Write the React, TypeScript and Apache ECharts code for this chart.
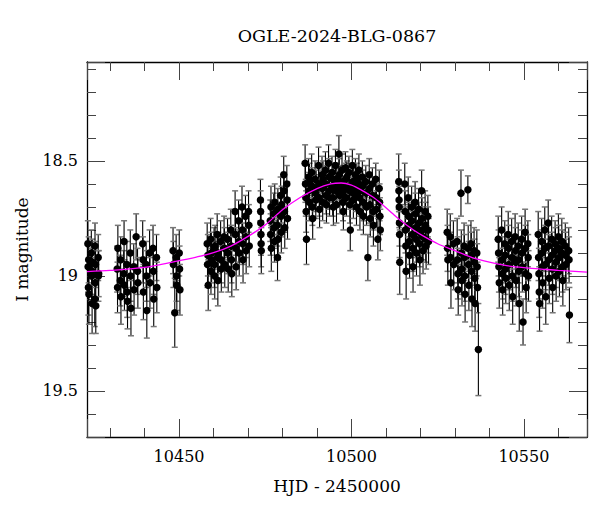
import React, { useEffect, useRef } from 'react';
import * as echarts from 'echarts';

const TITLE = 'OGLE-2024-BLG-0867';
const X_NAME = 'HJD - 2450000';
const Y_NAME = 'I magnitude';
const X_MIN = 10423.3;
const X_MAX = 10568.3;
const Y_MIN = 18.07;
const Y_MAX = 19.7;

// [HJD-2450000, I mag, error]
const obs: number[][] = [
  [10423.55,18.86,0.10],[10423.62,18.96,0.11],[10423.70,19.05,0.12],[10423.78,18.93,0.10],[10423.85,19.08,0.13],
  [10424.55,18.90,0.10],[10424.62,19.00,0.11],[10424.70,18.98,0.10],[10424.78,19.12,0.13],[10424.85,18.94,0.10],
  [10425.55,19.10,0.12],[10425.62,18.87,0.10],[10425.70,19.03,0.11],[10425.78,18.95,0.10],[10425.85,19.13,0.12],
  [10426.55,18.92,0.10],[10426.62,19.00,0.11],[10426.70,18.99,0.10],
  [10432.05,18.97,0.10],[10432.15,19.05,0.11],[10432.25,18.88,0.10],
  [10432.95,19.02,0.11],[10433.05,18.93,0.10],[10433.15,19.09,0.12],
  [10433.95,18.99,0.10],[10434.05,18.85,0.09],[10434.15,19.04,0.11],
  [10434.85,18.95,0.10],[10434.95,19.07,0.11],[10435.05,19.11,0.12],
  [10435.85,18.90,0.10],[10435.95,19.00,0.11],[10436.05,19.14,0.12],
  [10436.85,18.96,0.10],[10436.95,19.06,0.11],
  [10437.55,18.83,0.10],[10437.95,18.98,0.10],[10438.05,19.03,0.11],
  [10439.45,18.86,0.10],[10439.55,18.93,0.10],[10439.65,19.07,0.12],
  [10440.45,18.95,0.10],[10440.55,19.00,0.11],[10440.65,19.15,0.12],
  [10441.45,18.90,0.10],[10441.55,19.03,0.11],
  [10442.45,18.88,0.10],[10442.55,18.98,0.10],[10442.65,19.10,0.12],
  [10443.45,18.92,0.10],[10443.55,19.05,0.11],
  [10448.25,18.89,0.10],[10448.35,18.95,0.10],[10448.75,19.16,0.15],
  [10449.15,18.92,0.10],[10449.25,19.00,0.11],[10449.35,19.04,0.11],
  [10450.05,18.90,0.10],[10450.15,18.97,0.10],[10450.25,19.06,0.11],
  [10458.15,18.86,0.09],[10458.25,18.95,0.10],[10458.35,18.91,0.09],[10458.45,19.04,0.11],
  [10459.15,18.84,0.09],[10459.25,18.98,0.10],[10459.35,18.90,0.09],[10459.45,18.93,0.10],
  [10460.15,18.88,0.09],[10460.25,18.95,0.10],[10460.35,19.00,0.10],[10460.45,18.87,0.09],
  [10461.05,18.82,0.09],[10461.15,18.92,0.09],[10461.25,19.02,0.11],[10461.35,18.90,0.09],
  [10462.05,18.85,0.09],[10462.15,18.93,0.10],[10462.25,18.97,0.10],
  [10463.05,18.83,0.09],[10463.15,18.88,0.09],[10463.25,18.95,0.10],
  [10464.05,18.84,0.09],[10464.15,18.90,0.09],[10464.25,18.97,0.10],
  [10465.00,18.80,0.09],[10465.10,18.87,0.09],[10465.20,18.93,0.10],[10465.30,18.99,0.10],
  [10466.25,18.72,0.09],[10466.35,18.82,0.09],[10466.45,18.88,0.09],[10466.55,18.96,0.10],
  [10467.25,18.76,0.09],[10467.35,18.85,0.09],[10467.45,18.90,0.10],
  [10468.25,18.70,0.09],[10468.35,18.80,0.09],[10468.45,18.86,0.09],[10468.55,18.93,0.10],
  [10469.25,18.74,0.09],[10469.35,18.83,0.09],[10469.45,18.89,0.10],
  [10470.15,18.72,0.09],[10470.25,18.78,0.09],[10470.35,18.87,0.09],
  [10473.60,18.67,0.09],[10473.65,18.72,0.09],[10473.70,18.77,0.09],[10473.75,18.82,0.09],[10473.80,18.86,0.10],[10473.85,18.89,0.10],
  [10476.45,18.76,0.09],[10476.55,18.82,0.09],[10476.65,18.70,0.09],[10476.75,18.88,0.10],
  [10477.45,18.73,0.09],[10477.55,18.79,0.09],[10477.65,18.85,0.09],[10477.75,18.68,0.08],
  [10478.45,18.78,0.09],[10478.55,18.92,0.10],[10478.65,18.71,0.09],[10478.75,18.84,0.09],
  [10479.45,18.65,0.08],[10479.55,18.74,0.09],[10479.65,18.81,0.09],[10479.75,18.69,0.08],
  [10480.35,18.56,0.08],[10480.45,18.63,0.08],[10480.55,18.72,0.09],[10480.65,18.79,0.09],
  [10481.25,18.60,0.08],[10481.35,18.67,0.08],[10481.45,18.75,0.09],
  [10486.55,18.51,0.08],[10486.65,18.60,0.08],[10486.75,18.66,0.08],[10486.85,18.72,0.09],[10486.95,18.84,0.11],
  [10487.55,18.57,0.08],[10487.65,18.63,0.08],[10487.75,18.68,0.08],[10487.85,18.59,0.08],
  [10488.45,18.55,0.08],[10488.55,18.61,0.08],[10488.65,18.70,0.08],[10488.75,18.75,0.09],
  [10489.45,18.58,0.08],[10489.55,18.64,0.08],[10489.65,18.67,0.08],[10489.75,18.62,0.08],
  [10490.45,18.52,0.08],[10490.55,18.60,0.08],[10490.65,18.66,0.08],[10490.75,18.71,0.08],
  [10491.45,18.56,0.08],[10491.55,18.62,0.08],[10491.65,18.68,0.08],[10491.75,18.58,0.08],
  [10492.45,18.54,0.08],[10492.55,18.60,0.08],[10492.65,18.65,0.08],[10492.75,18.69,0.08],
  [10493.35,18.51,0.08],[10493.45,18.57,0.08],[10493.55,18.63,0.08],[10493.65,18.66,0.08],
  [10494.35,18.55,0.07],[10494.45,18.61,0.07],[10494.55,18.66,0.08],[10494.65,18.58,0.07],[10494.75,18.70,0.08],
  [10495.35,18.52,0.07],[10495.45,18.58,0.07],[10495.55,18.63,0.07],[10495.65,18.69,0.08],[10495.75,18.60,0.07],
  [10496.35,18.47,0.08],[10496.45,18.56,0.07],[10496.55,18.62,0.07],[10496.65,18.65,0.08],[10496.75,18.59,0.07],
  [10497.25,18.54,0.07],[10497.35,18.60,0.07],[10497.45,18.64,0.07],[10497.55,18.68,0.08],[10497.65,18.72,0.08],
  [10498.25,18.53,0.07],[10498.35,18.58,0.07],[10498.45,18.62,0.07],[10498.55,18.66,0.08],[10498.65,18.57,0.07],
  [10499.25,18.55,0.07],[10499.35,18.61,0.07],[10499.45,18.63,0.07],[10499.55,18.69,0.08],[10499.65,18.80,0.09],
  [10500.25,18.52,0.07],[10500.35,18.59,0.07],[10500.45,18.64,0.07],[10500.55,18.67,0.08],[10500.65,18.60,0.07],
  [10501.15,18.56,0.07],[10501.25,18.62,0.07],[10501.35,18.65,0.07],[10501.45,18.70,0.08],[10501.55,18.58,0.07],
  [10502.15,18.54,0.07],[10502.25,18.60,0.07],[10502.35,18.66,0.08],[10502.45,18.72,0.08],[10502.55,18.63,0.07],
  [10503.15,18.57,0.07],[10503.25,18.61,0.07],[10503.35,18.68,0.08],[10503.45,18.74,0.08],
  [10504.15,18.59,0.07],[10504.25,18.64,0.07],[10504.35,18.70,0.08],[10504.75,18.92,0.10],
  [10505.15,18.56,0.07],[10505.25,18.62,0.07],[10505.35,18.69,0.08],[10505.45,18.75,0.08],
  [10506.05,18.60,0.07],[10506.15,18.65,0.08],[10506.25,18.72,0.08],[10506.35,18.78,0.09],
  [10507.05,18.58,0.07],[10507.15,18.66,0.08],[10507.25,18.71,0.08],[10507.65,18.84,0.09],
  [10508.05,18.62,0.08],[10508.15,18.68,0.08],[10508.25,18.74,0.08],[10508.35,18.80,0.09],
  [10513.70,18.59,0.12],[10513.75,18.63,0.09],[10513.80,18.67,0.09],[10513.85,18.70,0.09],[10513.90,18.77,0.10],[10513.95,18.82,0.10],[10514.00,18.94,0.14],
  [10515.45,18.60,0.09],[10515.55,18.72,0.09],[10515.65,18.80,0.10],[10515.75,18.87,0.10],[10515.85,18.98,0.12],
  [10516.45,18.66,0.09],[10516.55,18.74,0.09],[10516.65,18.78,0.10],[10516.75,18.85,0.10],[10516.85,18.91,0.10],
  [10517.45,18.70,0.09],[10517.55,18.76,0.09],[10517.65,18.82,0.10],[10517.75,18.88,0.10],[10517.85,18.96,0.11],
  [10518.45,18.68,0.09],[10518.55,18.73,0.09],[10518.65,18.79,0.10],[10518.75,18.84,0.10],[10518.85,18.90,0.10],
  [10519.45,18.71,0.09],[10519.55,18.77,0.09],[10519.65,18.81,0.10],[10519.75,18.86,0.10],[10519.85,18.93,0.11],
  [10520.35,18.63,0.09],[10520.45,18.75,0.09],[10520.55,18.80,0.10],[10520.65,18.83,0.10],[10520.75,18.89,0.10],
  [10521.35,18.72,0.09],[10521.45,18.78,0.10],[10521.55,18.84,0.10],[10521.65,18.87,0.10],
  [10522.15,18.74,0.09],[10522.25,18.80,0.10],[10522.35,18.85,0.10],
  [10527.75,18.81,0.10],[10527.85,18.88,0.10],[10527.95,18.93,0.11],
  [10528.65,18.83,0.10],[10528.75,18.92,0.11],[10528.85,19.03,0.11],
  [10529.55,18.86,0.10],[10529.65,18.95,0.11],
  [10530.65,18.85,0.10],[10530.75,18.93,0.10],[10530.85,18.99,0.11],[10530.95,19.06,0.11],
  [10531.75,18.64,0.10],[10531.85,18.90,0.10],[10531.95,18.97,0.11],[10532.05,19.02,0.11],
  [10532.65,18.87,0.10],[10532.75,18.92,0.10],[10532.85,19.00,0.11],[10532.95,19.08,0.12],
  [10533.75,18.625,0.06],[10533.85,18.88,0.10],[10533.95,18.95,0.10],[10534.05,19.04,0.11],
  [10534.65,18.86,0.10],[10534.75,18.91,0.10],[10534.85,18.98,0.11],[10534.95,19.10,0.12],
  [10535.55,18.89,0.10],[10535.65,18.94,0.10],[10535.75,19.01,0.11],[10535.85,19.12,0.12],
  [10536.35,18.90,0.10],[10536.45,18.96,0.10],[10536.55,19.05,0.11],
  [10536.80,19.32,0.20],
  [10542.55,18.84,0.10],[10542.65,18.90,0.10],[10542.75,18.96,0.11],[10542.85,19.03,0.11],
  [10543.55,18.80,0.10],[10543.65,18.93,0.10],[10543.75,18.99,0.11],[10543.85,19.06,0.11],
  [10544.45,18.86,0.10],[10544.55,18.91,0.10],[10544.65,18.97,0.11],[10544.75,19.01,0.11],
  [10545.45,18.82,0.10],[10545.55,18.88,0.10],[10545.65,18.95,0.11],[10545.75,19.04,0.11],
  [10546.45,18.85,0.10],[10546.55,18.92,0.10],[10546.65,19.00,0.11],[10546.75,19.09,0.12],
  [10547.45,18.83,0.10],[10547.55,18.89,0.10],[10547.65,18.94,0.11],[10547.75,19.02,0.11],
  [10548.35,18.87,0.10],[10548.45,18.93,0.10],[10548.55,18.98,0.11],[10548.65,19.12,0.12],
  [10549.35,18.84,0.10],[10549.45,18.90,0.10],[10549.55,18.96,0.11],[10549.75,19.20,0.10],
  [10550.35,18.81,0.10],[10550.45,18.88,0.10],[10550.55,18.99,0.11],[10550.65,19.05,0.11],
  [10551.15,18.86,0.10],[10551.25,18.92,0.10],[10551.35,19.00,0.11],
  [10554.15,18.82,0.10],[10554.25,18.92,0.10],[10554.35,18.99,0.11],[10554.45,19.07,0.11],[10554.55,19.12,0.12],
  [10555.15,18.85,0.10],[10555.25,18.90,0.10],[10555.35,18.96,0.11],[10555.45,19.03,0.11],
  [10556.05,18.80,0.10],[10556.15,18.88,0.10],[10556.25,18.95,0.11],[10556.35,19.09,0.12],
  [10557.05,18.77,0.10],[10557.15,18.87,0.10],[10557.25,18.93,0.11],[10557.35,19.01,0.11],
  [10558.05,18.84,0.10],[10558.15,18.91,0.10],[10558.25,18.97,0.11],[10558.35,19.05,0.11],
  [10559.05,18.86,0.10],[10559.15,18.89,0.10],[10559.25,18.94,0.11],[10559.35,19.00,0.11],
  [10560.00,18.83,0.10],[10560.10,18.88,0.10],[10560.20,18.92,0.10],[10560.30,18.98,0.11],
  [10561.00,18.85,0.10],[10561.10,18.90,0.10],[10561.20,18.96,0.11],[10561.30,19.02,0.11],
  [10562.00,18.87,0.10],[10562.10,18.91,0.10],[10562.20,18.95,0.11],
  [10563.00,18.89,0.10],[10563.10,18.93,0.10],[10563.20,19.17,0.12],
];

const modelHjd = [10423.3, 10430, 10440, 10449, 10455, 10460, 10465, 10470, 10475, 10480, 10485, 10490, 10494, 10497, 10500, 10503, 10506, 10509, 10512, 10515, 10518, 10521, 10525, 10530, 10535, 10540, 10545, 10550, 10555, 10560, 10568.3];
const modelMag = [18.981, 18.976, 18.963, 18.937, 18.918, 18.899, 18.870, 18.828, 18.778, 18.712, 18.660, 18.620, 18.600, 18.596, 18.605, 18.628, 18.655, 18.690, 18.730, 18.768, 18.800, 18.828, 18.860, 18.890, 18.920, 18.940, 18.955, 18.964, 18.970, 18.976, 18.983];

const FONT = 'DejaVu Serif';

export default function App() {
  const ref = useRef<HTMLDivElement>(null);
  useEffect(() => {
    const chart = echarts.init(ref.current!, null, { renderer: 'svg' });
    const axisLine = { show: true, onZero: false, lineStyle: { color: '#000', width: 1.3 } };
    const axisTick = { show: true, inside: true, length: 18, lineStyle: { color: '#444', width: 1 } };
    const minorTick = { show: true, splitNumber: 5, length: 9, lineStyle: { color: '#444', width: 1 } };
    const xLabel = (v: number) => (Math.abs(v / 50 - Math.round(v / 50)) < 1e-6 ? String(Math.round(v)) : '');
    const yLabel = (v: number) => (Math.abs(v * 2 - Math.round(v * 2)) < 1e-6 ? String(+v.toFixed(1)) : '');
    const xBase = { type: 'value', min: X_MIN, max: X_MAX, splitNumber: 3, axisLine, axisTick, minorTick, splitLine: { show: false }, minorSplitLine: { show: false } };
    const yBase = { type: 'value', min: Y_MIN, max: Y_MAX, inverse: true, splitNumber: 3, axisLine, axisTick, minorTick, splitLine: { show: false }, minorSplitLine: { show: false } };
    chart.setOption({
      animation: false,
      backgroundColor: '#fff',
      title: {
        text: TITLE, left: 337, top: 27, textAlign: 'center', padding: 0,
        textStyle: { fontFamily: FONT, fontSize: 17.5, fontWeight: 'normal', color: '#000' },
      },
      grid: { left: 87, top: 62, width: 500, height: 375, containLabel: false, outerBoundsMode: 'none' },
      xAxis: [
        {
          ...xBase, position: 'bottom',
          axisLabel: { color: '#000', fontFamily: FONT, fontSize: 16, margin: 11, formatter: xLabel },
          name: X_NAME, nameLocation: 'middle', nameGap: 40,
          nameTextStyle: { fontFamily: FONT, fontSize: 17, color: '#000' },
        },
        { ...xBase, position: 'top', axisLabel: { show: false } },
      ],
      yAxis: [
        {
          ...yBase, position: 'left',
          axisLabel: { color: '#000', fontFamily: FONT, fontSize: 16, margin: 9, formatter: yLabel },
          name: Y_NAME, nameLocation: 'middle', nameGap: 57, nameRotate: 90,
          nameTextStyle: { fontFamily: FONT, fontSize: 17, color: '#000' },
        },
        { ...yBase, position: 'right', axisLabel: { show: false } },
      ],
      series: [
        {
          type: 'custom',
          data: obs,
          encode: { x: 0, y: 1 },
          z: 1,
          silent: true,
          renderItem: (params: any, api: any) => {
            const t = api.value(0);
            const m = api.value(1);
            const e = api.value(2);
            const hi = api.coord([t, m - e]);
            const lo = api.coord([t, m + e]);
            const w = 3;
            return {
              type: 'group',
              children: [
                { type: 'line', shape: { x1: hi[0], y1: hi[1], x2: lo[0], y2: lo[1] }, style: { stroke: '#000', lineWidth: 1.1 } },
                { type: 'line', shape: { x1: hi[0] - w, y1: hi[1], x2: hi[0] + w, y2: hi[1] }, style: { stroke: '#777', lineWidth: 1.5 } },
                { type: 'line', shape: { x1: lo[0] - w, y1: lo[1], x2: lo[0] + w, y2: lo[1] }, style: { stroke: '#777', lineWidth: 1.5 } },
              ],
            };
          },
        },
        {
          type: 'scatter',
          data: obs.map((r) => [r[0], r[1]]),
          symbol: 'circle',
          symbolSize: 7.5,
          itemStyle: { color: '#000', opacity: 1 },
          z: 2,
          silent: true,
        },
        {
          type: 'line',
          data: modelHjd.map((t, i) => [t, modelMag[i]]),
          smooth: 0.3,
          showSymbol: false,
          symbol: 'none',
          lineStyle: { color: '#ff00ff', width: 1.3 },
          z: 3,
          silent: true,
        },
      ],
    });
    return () => chart.dispose();
  }, []);
  return <div ref={ref} style={{ position: 'fixed', left: 0, top: 0, width: 600, height: 512, background: '#fff' }} />;
}
